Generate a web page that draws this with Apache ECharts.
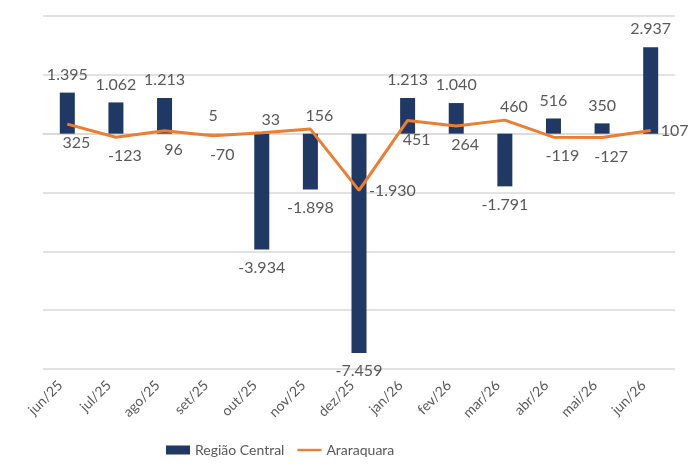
<!DOCTYPE html>
<html>
<head>
<meta charset="utf-8">
<script src="https://cdn.jsdelivr.net/npm/echarts@6/dist/echarts.min.js"></script>
<style>
  html, body { margin: 0; padding: 0; background: #fff; }
  #chart-container { width: 700px; height: 475px; }
</style>
</head>
<body>
<div id="chart-container"></div>
<script>
// meses
var categories = ['jun/25', 'jul/25', 'ago/25', 'set/25', 'out/25', 'nov/25', 'dez/25',
                  'jan/26', 'fev/26', 'mar/26', 'abr/26', 'mai/26', 'jun/26'];
// saldo por mês
var regiaoCentral = [1395, 1062, 1213, 5, -3934, -1898, -7459, 1213, 1040, -1791, 516, 350, 2937];
var araraquara = [325, -123, 96, -70, 33, 156, -1930, 451, 264, 460, -119, -127, 107];
// onde fica o rótulo de cada ponto da linha
var lineLabelPos = ['bottom', 'bottom', 'bottom', 'bottom', 'top', 'top', 'right',
                    'bottom', 'bottom', 'top', 'bottom', 'bottom', 'right'];

function fmt(v) {
    var s = String(Math.abs(v)).replace(/\B(?=(\d{3})+(?!\d))/g, '.');
    return (v < 0 ? '-' : '') + s;
}

var myChart = echarts.init(document.getElementById('chart-container'));
var textColor = '#595959';
var font = 'Lato, "Open Sans", sans-serif';

var option = {
    animation: false,
    textStyle: { fontFamily: font },
    grid: { left: 43, right: 25, top: 16, bottom: 106 },
    legend: {
        left: 161,
        bottom: 13,
        itemGap: 13,
        itemWidth: 24,
        itemHeight: 9,
        textStyle: { fontSize: 14, color: textColor, fontFamily: font },
        data: [
            { name: 'Região Central', icon: 'rect' },
            { name: 'Araraquara', icon: 'path://M0,0H30V3H0Z' }
        ]
    },
    xAxis: [{
        type: 'category',
        data: categories,
        axisLine: { show: false, onZero: false },
        axisTick: { show: false },
        axisLabel: { rotate: 45, fontSize: 14, color: textColor, margin: 7, padding: [0, 10, 0, 0], interval: 0 }
    }, {
        // linha do zero com marcas
        type: 'category',
        data: categories,
        axisLine: { onZero: true, lineStyle: { color: '#d9d9d9', width: 1.5 } },
        axisTick: { inside: true, length: 5, lineStyle: { color: '#d9d9d9' } },
        axisLabel: { show: false }
    }],
    yAxis: {
        type: 'value',
        min: -8000,
        max: 4000,
        interval: 2000,
        axisLabel: { show: false },
        axisLine: { show: false },
        axisTick: { show: false },
        splitLine: { lineStyle: { color: '#d9d9d9', width: 1.5 } }
    },
    series: [{
        name: 'Região Central',
        type: 'bar',
        xAxisIndex: 0,
        barWidth: 15,
        itemStyle: { color: '#1f3864' },
        data: regiaoCentral.map(function (v) {
            return { value: v, label: { position: v < 0 ? 'bottom' : 'top' } };
        }),
        label: {
            show: true,
            distance: 10,
            fontSize: 16,
            color: textColor,
            formatter: function (p) { return fmt(p.value); }
        }
    }, {
        name: 'Araraquara',
        type: 'line',
        xAxisIndex: 0,
        symbol: 'circle',
        symbolSize: 0,
        showSymbol: true,
        lineStyle: { color: '#ed7d31', width: 3 },
        itemStyle: { color: '#ed7d31' },
        data: araraquara.map(function (v, i) {
            var pos = lineLabelPos[i];
            return {
                value: v,
                label: { position: pos, offset: pos === 'right' ? [2, 0] : [9, 3] }
            };
        }),
        label: {
            show: true,
            distance: 8,
            fontSize: 16,
            color: textColor,
            formatter: function (p) { return fmt(p.value); }
        }
    }]
};

myChart.setOption(option);
</script>
</body>
</html>
